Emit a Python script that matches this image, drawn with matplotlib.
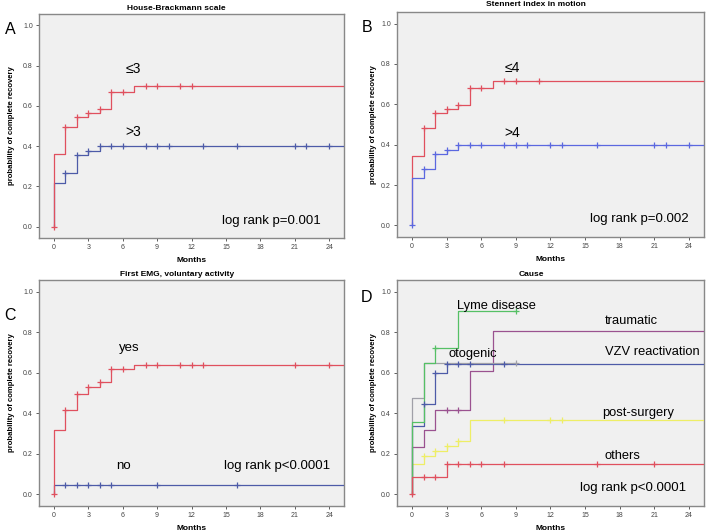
import numpy as np
import matplotlib
matplotlib.use('Agg')
import matplotlib.pyplot as plt

plt.rcParams['font.family'] = ['Liberation Sans', 'DejaVu Sans']

# ---- data (months, probability of complete recovery) ----
# A: House-Brackmann scale
a_le3_t = [0, 0, 1, 2, 3, 4, 5, 7]
a_le3_p = [0, 0.36, 0.495, 0.545, 0.565, 0.585, 0.67, 0.70]
a_le3_c = [1, 2, 3, 4, 5, 6, 8, 9, 11, 12]
a_gt3_t = [0, 0, 1, 2, 3, 4]
a_gt3_p = [0, 0.215, 0.265, 0.355, 0.375, 0.40]
a_gt3_c = [1, 2, 3, 4, 5, 6, 8, 9, 10, 13, 16, 21, 22, 24]

# B: Stennert index in motion
b_le4_t = [0, 0, 1, 2, 3, 4, 5, 7]
b_le4_p = [0, 0.345, 0.485, 0.555, 0.575, 0.595, 0.68, 0.715]
b_le4_c = [1, 2, 3, 4, 5, 6, 8, 9, 11]
b_gt4_t = [0, 0, 1, 2, 3, 4]
b_gt4_p = [0, 0.235, 0.28, 0.355, 0.375, 0.40]
b_gt4_c = [1, 2, 3, 4, 5, 6, 8, 9, 10, 12, 13, 16, 21, 22, 24]

# C: First EMG, voluntary activity
c_yes_t = [0, 0, 1, 2, 3, 4, 5, 7]
c_yes_p = [0, 0.32, 0.415, 0.495, 0.53, 0.555, 0.62, 0.64]
c_yes_c = [1, 2, 3, 4, 5, 6, 8, 9, 11, 12, 13, 21, 24]
c_no_t = [0, 0]
c_no_p = [0, 0.045]
c_no_c = [1, 2, 3, 4, 5, 9, 16]

# D: Cause
d_lyme_t = [0, 0, 1, 2, 4]
d_lyme_p = [0, 0.355, 0.65, 0.72, 0.905]
d_lyme_c = [2, 9]
d_oto_t = [0, 0, 1]
d_oto_p = [0, 0.475, 0.65]
d_oto_c = [9]
d_vzv_t = [0, 0, 1, 2, 3]
d_vzv_p = [0, 0.335, 0.445, 0.60, 0.645]
d_vzv_c = [1, 2, 3, 4, 5, 8]
d_trau_t = [0, 0, 1, 2, 5, 7]
d_trau_p = [0, 0.235, 0.32, 0.415, 0.61, 0.805]
d_trau_c = [3, 4]
d_post_t = [0, 0, 1, 2, 3, 4, 5]
d_post_p = [0, 0.15, 0.19, 0.215, 0.24, 0.265, 0.365]
d_post_c = [1, 2, 3, 4, 8, 12, 13]
d_oth_t = [0, 0, 3]
d_oth_p = [0, 0.085, 0.148]
d_oth_c = [1, 2, 3, 4, 5, 6, 8, 16, 21]

RED = '#e0505e'
BLUE = '#4d5ba8'
BLUE_B = '#5b68e0'
BG = '#f0f0f0'
XMAX = 25.3


def km(ax, t, p, cens, color, end=XMAX, lw=0.9):
    tt = list(t) + [end]
    pp = list(p) + [p[-1]]
    ax.step(tt, pp, where='post', color=color, lw=lw, zorder=3)
    idx = np.searchsorted(t, cens, side='right') - 1
    cy = np.array(p)[idx]
    ax.plot(cens, cy, ls='none', marker='+', ms=4, mew=0.9, color=color, zorder=4)


def setup(ax, ylab_x):
    ax.set_facecolor(BG)
    ax.set_xlim(-1.3, XMAX)
    ax.set_ylim(-0.057, 1.057)
    ax.set_xticks(range(0, 25, 3))
    ax.set_yticks([0, 0.2, 0.4, 0.6, 0.8, 1.0])
    ax.set_yticklabels(['0.0', '0.2', '0.4', '0.6', '0.8', '1.0'])
    ax.tick_params(labelsize=5, length=2.5, width=0.6, colors='#444444', pad=2)
    for s in ax.spines.values():
        s.set_color('#888888')
        s.set_linewidth(1.0)
    ax.set_xlabel('Months', fontsize=6, fontweight='bold', labelpad=4)
    ax.set_ylabel('probability of complete recovery', fontsize=5.6, fontweight='bold')
    ax.yaxis.set_label_coords(ylab_x, 0.5)


fig = plt.figure(figsize=(7.08, 5.32), dpi=100)
axA = fig.add_axes([0.0551, 0.5526, 0.4308, 0.4211])
axB = fig.add_axes([0.5607, 0.5545, 0.4336, 0.4229])
axC = fig.add_axes([0.0551, 0.0489, 0.4308, 0.4248])
axD = fig.add_axes([0.5607, 0.0489, 0.4336, 0.4248])
setup(axA, -0.079)
setup(axB, -0.065)
setup(axC, -0.079)
setup(axD, -0.065)

# A
km(axA, a_gt3_t, a_gt3_p, a_gt3_c, BLUE)
km(axA, a_le3_t, a_le3_p, a_le3_c, RED)
axA.plot([0], [0], ls='none', marker='+', ms=4, mew=0.9, color=RED, zorder=5)
axA.text(6.9, 0.785, '≤3', fontsize=10, ha='center', va='center')
axA.text(6.9, 0.47, '>3', fontsize=10, ha='center', va='center')
axA.text(19.0, 0.03, 'log rank p=0.001', fontsize=9.5, ha='center', va='center')

# B
km(axB, b_le4_t, b_le4_p, b_le4_c, RED)
km(axB, b_gt4_t, b_gt4_p, b_gt4_c, BLUE_B)
axB.plot([0], [0], ls='none', marker='+', ms=4, mew=0.9, color=BLUE_B, zorder=5)
axB.text(8.7, 0.78, '≤4', fontsize=10, ha='center', va='center')
axB.text(8.7, 0.46, '>4', fontsize=10, ha='center', va='center')
axB.text(19.7, 0.03, 'log rank p=0.002', fontsize=9.5, ha='center', va='center')

# C
km(axC, c_no_t, c_no_p, c_no_c, BLUE)
km(axC, c_yes_t, c_yes_p, c_yes_c, RED)
axC.plot([0], [0], ls='none', marker='+', ms=4, mew=0.9, color=RED, zorder=5)
axC.text(6.6, 0.72, 'yes', fontsize=9.5, ha='center', va='center')
axC.text(6.1, 0.138, 'no', fontsize=9.5, ha='center', va='center')
axC.text(19.45, 0.138, 'log rank p<0.0001', fontsize=9.5, ha='center', va='center')

# D
km(axD, d_post_t, d_post_p, d_post_c, '#eeee66')
km(axD, d_trau_t, d_trau_p, d_trau_c, '#9a5290')
km(axD, d_vzv_t, d_vzv_p, d_vzv_c, BLUE)
km(axD, d_oto_t, d_oto_p, d_oto_c, '#a0a0a8', end=9)
km(axD, d_lyme_t, d_lyme_p, d_lyme_c, '#55c065', end=9)
km(axD, d_oth_t, d_oth_p, d_oth_c, RED)
axD.plot([0], [0], ls='none', marker='+', ms=4, mew=0.9, color=RED, zorder=5)
axD.text(3.9, 0.93, 'Lyme disease', fontsize=9.3, ha='left', va='center')
axD.text(16.7, 0.855, 'traumatic', fontsize=9.3, ha='left', va='center')
axD.text(3.2, 0.694, 'otogenic', fontsize=9.3, ha='left', va='center')
axD.text(16.7, 0.70, 'VZV reactivation', fontsize=9.3, ha='left', va='center')
axD.text(16.5, 0.40, 'post-surgery', fontsize=9.3, ha='left', va='center')
axD.text(16.7, 0.19, 'others', fontsize=9.3, ha='left', va='center')
axD.text(14.6, 0.03, 'log rank p<0.0001', fontsize=9.5, ha='left', va='center')

# titles
fig.text(176 / 708, 1 - 8 / 532, 'House-Brackmann scale', fontsize=6, fontweight='bold', ha='center', va='center')
fig.text(536 / 708, 1 - 5 / 532, 'Stennert index in motion', fontsize=6, fontweight='bold', ha='center', va='center')
fig.text(177 / 708, 1 - 275 / 532, 'First EMG, voluntary activity', fontsize=6, fontweight='bold', ha='center', va='center')
fig.text(531 / 708, 1 - 275 / 532, 'Cause', fontsize=6, fontweight='bold', ha='center', va='center')

# panel letters
fig.text(10 / 708, 1 - 29 / 532, 'A', fontsize=11.5, ha='center', va='center')
fig.text(367 / 708, 1 - 28 / 532, 'B', fontsize=11.5, ha='center', va='center')
fig.text(10 / 708, 1 - 316 / 532, 'C', fontsize=11.5, ha='center', va='center')
fig.text(367 / 708, 1 - 298 / 532, 'D', fontsize=11.5, ha='center', va='center')

fig.savefig('out.png', dpi=100)
